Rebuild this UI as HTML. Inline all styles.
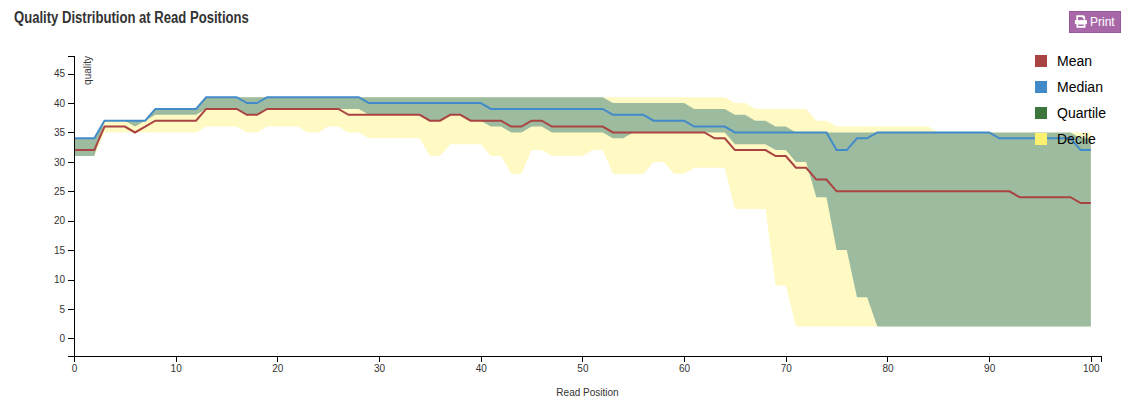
<!DOCTYPE html>
<html><head><meta charset="utf-8"><title>Quality Distribution</title>
<style>
html,body{margin:0;padding:0;background:#fff;width:1137px;height:405px;overflow:hidden;position:relative;font-family:"Liberation Sans",sans-serif;}
.title{position:absolute;left:14px;top:9px;font-size:16px;line-height:18px;font-weight:bold;color:#333;white-space:nowrap;transform-origin:0 0;transform:scaleX(0.818);}
.btn{position:absolute;left:1069px;top:11px;width:50px;height:20px;background:#a868a8;border:1px solid #9b579b;color:#fff;font-size:12px;line-height:20px;}
.btn span{position:absolute;left:20px;top:0;}
.tk text{stroke:none;fill:#333;}
</style></head><body>
<div class="title">Quality Distribution at Read Positions</div>
<div class="btn"><svg width="14" height="14" viewBox="0 0 14 14" style="position:absolute;left:4px;top:3px"><path fill-rule="evenodd" d="M2.3,0.3H9.6L11.1,1.8V5.3H2.3Z M4,2H7.9L9.8,3.9V5.3H4Z" fill="#fff"/><path d="M0.9,5.1H12.9V9.1H0.9Z" fill="#fff"/><path fill-rule="evenodd" d="M2.5,8.3H11.4V12.7H2.5Z M4.2,9.6H9.7V11.1H4.2Z" fill="#fff"/></svg><span>Print</span></div>
<svg width="1137" height="405" viewBox="0 0 1137 405" style="position:absolute;left:0;top:0">
<path d="M74,138.35L84.17,138.35L94.34,138.35L104.5,120.71L114.67,120.71L124.84,120.71L135.01,120.71L145.18,120.71L155.35,108.94L165.51,108.94L175.68,108.94L185.85,108.94L196.02,108.94L206.19,97.18L216.36,97.18L226.52,97.18L236.69,97.18L246.86,97.18L257.03,97.18L267.2,97.18L277.37,97.18L287.53,97.18L297.7,97.18L307.87,97.18L318.04,97.18L328.21,97.18L338.38,97.18L348.54,97.18L358.71,97.18L368.88,97.18L379.05,97.18L389.22,97.18L399.39,97.18L409.55,97.18L419.72,97.18L429.89,97.18L440.06,97.18L450.23,97.18L460.4,97.18L470.56,97.18L480.73,97.18L490.9,97.18L501.07,97.18L511.24,97.18L521.41,97.18L531.57,97.18L541.74,97.18L551.91,97.18L562.08,97.18L572.25,97.18L582.42,97.18L592.58,97.18L602.75,97.18L612.92,97.18L623.09,97.18L633.26,97.18L643.43,97.18L653.59,97.18L663.76,97.18L673.93,97.18L684.1,97.18L694.27,97.18L704.44,97.18L714.6,97.18L724.77,97.18L734.94,103.06L745.11,103.06L755.28,108.94L765.45,108.94L775.61,108.94L785.78,108.94L795.95,108.94L806.12,108.94L816.29,120.71L826.46,120.71L836.62,126.59L846.79,126.59L856.96,126.59L867.13,126.59L877.3,126.59L887.47,126.59L897.63,126.59L907.8,126.59L917.97,126.59L928.14,126.59L938.31,132.47L948.48,132.47L958.64,132.47L968.81,132.47L978.98,132.47L989.15,132.47L999.32,132.47L1009.49,132.47L1019.65,132.47L1029.82,132.47L1039.99,132.47L1050.16,132.47L1060.33,132.47L1070.5,132.47L1080.66,132.47L1090.83,132.47L1090.83,326.59L1080.66,326.59L1070.5,326.59L1060.33,326.59L1050.16,326.59L1039.99,326.59L1029.82,326.59L1019.65,326.59L1009.49,326.59L999.32,326.59L989.15,326.59L978.98,326.59L968.81,326.59L958.64,326.59L948.48,326.59L938.31,326.59L928.14,326.59L917.97,326.59L907.8,326.59L897.63,326.59L887.47,326.59L877.3,326.59L867.13,326.59L856.96,326.59L846.79,326.59L836.62,326.59L826.46,326.59L816.29,326.59L806.12,326.59L795.95,326.59L785.78,285.41L775.61,285.41L765.45,208.94L755.28,208.94L745.11,208.94L734.94,208.94L724.77,167.76L714.6,167.76L704.44,167.76L694.27,167.76L684.1,173.65L673.93,173.65L663.76,161.88L653.59,161.88L643.43,173.65L633.26,173.65L623.09,173.65L612.92,173.65L602.75,150.12L592.58,150.12L582.42,156L572.25,156L562.08,156L551.91,156L541.74,150.12L531.57,150.12L521.41,173.65L511.24,173.65L501.07,156L490.9,156L480.73,144.24L470.56,144.24L460.4,144.24L450.23,144.24L440.06,156L429.89,156L419.72,138.35L409.55,138.35L399.39,138.35L389.22,138.35L379.05,138.35L368.88,138.35L358.71,132.47L348.54,132.47L338.38,126.59L328.21,126.59L318.04,132.47L307.87,132.47L297.7,126.59L287.53,126.59L277.37,126.59L267.2,126.59L257.03,132.47L246.86,132.47L236.69,126.59L226.52,126.59L216.36,126.59L206.19,126.59L196.02,132.47L185.85,132.47L175.68,132.47L165.51,132.47L155.35,132.47L145.18,132.47L135.01,132.47L124.84,132.47L114.67,132.47L104.5,132.47L94.34,156L84.17,156L74,156Z" fill="#fff9c4"/>
<path d="M74,138.35L84.17,138.35L94.34,138.35L104.5,120.71L114.67,120.71L124.84,120.71L135.01,120.71L145.18,120.71L155.35,108.94L165.51,108.94L175.68,108.94L185.85,108.94L196.02,108.94L206.19,97.18L216.36,97.18L226.52,97.18L236.69,97.18L246.86,97.18L257.03,97.18L267.2,97.18L277.37,97.18L287.53,97.18L297.7,97.18L307.87,97.18L318.04,97.18L328.21,97.18L338.38,97.18L348.54,97.18L358.71,97.18L368.88,97.18L379.05,97.18L389.22,97.18L399.39,97.18L409.55,97.18L419.72,97.18L429.89,97.18L440.06,97.18L450.23,97.18L460.4,97.18L470.56,97.18L480.73,97.18L490.9,97.18L501.07,97.18L511.24,97.18L521.41,97.18L531.57,97.18L541.74,97.18L551.91,97.18L562.08,97.18L572.25,97.18L582.42,97.18L592.58,97.18L602.75,97.18L612.92,103.06L623.09,103.06L633.26,103.06L643.43,103.06L653.59,103.06L663.76,103.06L673.93,103.06L684.1,103.06L694.27,108.94L704.44,108.94L714.6,108.94L724.77,108.94L734.94,114.82L745.11,114.82L755.28,120.71L765.45,120.71L775.61,126.59L785.78,126.59L795.95,132.47L806.12,132.47L816.29,132.47L826.46,132.47L836.62,132.47L846.79,132.47L856.96,132.47L867.13,132.47L877.3,132.47L887.47,132.47L897.63,132.47L907.8,132.47L917.97,132.47L928.14,132.47L938.31,132.47L948.48,132.47L958.64,132.47L968.81,132.47L978.98,132.47L989.15,132.47L999.32,132.47L1009.49,132.47L1019.65,132.47L1029.82,132.47L1039.99,132.47L1050.16,132.47L1060.33,132.47L1070.5,132.47L1080.66,138.35L1090.83,138.35L1090.83,326.59L1080.66,326.59L1070.5,326.59L1060.33,326.59L1050.16,326.59L1039.99,326.59L1029.82,326.59L1019.65,326.59L1009.49,326.59L999.32,326.59L989.15,326.59L978.98,326.59L968.81,326.59L958.64,326.59L948.48,326.59L938.31,326.59L928.14,326.59L917.97,326.59L907.8,326.59L897.63,326.59L887.47,326.59L877.3,326.59L867.13,297.18L856.96,297.18L846.79,250.12L836.62,250.12L826.46,197.18L816.29,197.18L806.12,161.88L795.95,161.88L785.78,150.12L775.61,150.12L765.45,144.24L755.28,144.24L745.11,144.24L734.94,144.24L724.77,132.47L714.6,132.47L704.44,132.47L694.27,132.47L684.1,132.47L673.93,132.47L663.76,132.47L653.59,132.47L643.43,132.47L633.26,132.47L623.09,138.35L612.92,138.35L602.75,132.47L592.58,132.47L582.42,132.47L572.25,132.47L562.08,132.47L551.91,132.47L541.74,126.59L531.57,126.59L521.41,132.47L511.24,132.47L501.07,126.59L490.9,126.59L480.73,120.71L470.56,120.71L460.4,114.82L450.23,114.82L440.06,120.71L429.89,120.71L419.72,114.82L409.55,114.82L399.39,114.82L389.22,114.82L379.05,114.82L368.88,114.82L358.71,108.94L348.54,108.94L338.38,108.94L328.21,108.94L318.04,108.94L307.87,108.94L297.7,108.94L287.53,108.94L277.37,108.94L267.2,108.94L257.03,114.82L246.86,114.82L236.69,108.94L226.52,108.94L216.36,108.94L206.19,108.94L196.02,114.82L185.85,114.82L175.68,114.82L165.51,114.82L155.35,114.82L145.18,120.71L135.01,126.59L124.84,120.71L114.67,120.71L104.5,120.71L94.34,156L84.17,156L74,156Z" fill="#9dbb9e"/>
<path d="M74,150.12L84.17,150.12L94.34,150.12L104.5,126.59L114.67,126.59L124.84,126.59L135.01,132.47L145.18,126.59L155.35,120.71L165.51,120.71L175.68,120.71L185.85,120.71L196.02,120.71L206.19,108.94L216.36,108.94L226.52,108.94L236.69,108.94L246.86,114.82L257.03,114.82L267.2,108.94L277.37,108.94L287.53,108.94L297.7,108.94L307.87,108.94L318.04,108.94L328.21,108.94L338.38,108.94L348.54,114.82L358.71,114.82L368.88,114.82L379.05,114.82L389.22,114.82L399.39,114.82L409.55,114.82L419.72,114.82L429.89,120.71L440.06,120.71L450.23,114.82L460.4,114.82L470.56,120.71L480.73,120.71L490.9,120.71L501.07,120.71L511.24,126.59L521.41,126.59L531.57,120.71L541.74,120.71L551.91,126.59L562.08,126.59L572.25,126.59L582.42,126.59L592.58,126.59L602.75,126.59L612.92,132.47L623.09,132.47L633.26,132.47L643.43,132.47L653.59,132.47L663.76,132.47L673.93,132.47L684.1,132.47L694.27,132.47L704.44,132.47L714.6,138.35L724.77,138.35L734.94,150.12L745.11,150.12L755.28,150.12L765.45,150.12L775.61,156L785.78,156L795.95,167.76L806.12,167.76L816.29,179.53L826.46,179.53L836.62,191.29L846.79,191.29L856.96,191.29L867.13,191.29L877.3,191.29L887.47,191.29L897.63,191.29L907.8,191.29L917.97,191.29L928.14,191.29L938.31,191.29L948.48,191.29L958.64,191.29L968.81,191.29L978.98,191.29L989.15,191.29L999.32,191.29L1009.49,191.29L1019.65,197.18L1029.82,197.18L1039.99,197.18L1050.16,197.18L1060.33,197.18L1070.5,197.18L1080.66,203.06L1090.83,203.06" fill="none" stroke="#a94442" stroke-width="2"/>
<path d="M74,138.35L84.17,138.35L94.34,138.35L104.5,120.71L114.67,120.71L124.84,120.71L135.01,120.71L145.18,120.71L155.35,108.94L165.51,108.94L175.68,108.94L185.85,108.94L196.02,108.94L206.19,97.18L216.36,97.18L226.52,97.18L236.69,97.18L246.86,103.06L257.03,103.06L267.2,97.18L277.37,97.18L287.53,97.18L297.7,97.18L307.87,97.18L318.04,97.18L328.21,97.18L338.38,97.18L348.54,97.18L358.71,97.18L368.88,103.06L379.05,103.06L389.22,103.06L399.39,103.06L409.55,103.06L419.72,103.06L429.89,103.06L440.06,103.06L450.23,103.06L460.4,103.06L470.56,103.06L480.73,103.06L490.9,108.94L501.07,108.94L511.24,108.94L521.41,108.94L531.57,108.94L541.74,108.94L551.91,108.94L562.08,108.94L572.25,108.94L582.42,108.94L592.58,108.94L602.75,108.94L612.92,114.82L623.09,114.82L633.26,114.82L643.43,114.82L653.59,120.71L663.76,120.71L673.93,120.71L684.1,120.71L694.27,126.59L704.44,126.59L714.6,126.59L724.77,126.59L734.94,132.47L745.11,132.47L755.28,132.47L765.45,132.47L775.61,132.47L785.78,132.47L795.95,132.47L806.12,132.47L816.29,132.47L826.46,132.47L836.62,150.12L846.79,150.12L856.96,138.35L867.13,138.35L877.3,132.47L887.47,132.47L897.63,132.47L907.8,132.47L917.97,132.47L928.14,132.47L938.31,132.47L948.48,132.47L958.64,132.47L968.81,132.47L978.98,132.47L989.15,132.47L999.32,138.35L1009.49,138.35L1019.65,138.35L1029.82,138.35L1039.99,138.35L1050.16,138.35L1060.33,138.35L1070.5,138.35L1080.66,150.12L1090.83,150.12" fill="none" stroke="#428bca" stroke-width="2"/>
<g class="ax" shape-rendering="crispEdges">
<path d="M68,356.5H74.5V56.5H68" fill="none" stroke="#000"/>
<path d="M74.5,362V356.5H1101.5V362" fill="none" stroke="#000"/>
</g>
<g class="tk" stroke="#000" shape-rendering="crispEdges" font-family="Liberation Sans, sans-serif" font-size="10"><g transform="translate(0,338.85)"><line x1="68" x2="74" y1="0" y2="0"/><text x="65" dy="0.32em" text-anchor="end">0</text></g><g transform="translate(0,309.44)"><line x1="68" x2="74" y1="0" y2="0"/><text x="65" dy="0.32em" text-anchor="end">5</text></g><g transform="translate(0,280.03)"><line x1="68" x2="74" y1="0" y2="0"/><text x="65" dy="0.32em" text-anchor="end">10</text></g><g transform="translate(0,250.62)"><line x1="68" x2="74" y1="0" y2="0"/><text x="65" dy="0.32em" text-anchor="end">15</text></g><g transform="translate(0,221.21)"><line x1="68" x2="74" y1="0" y2="0"/><text x="65" dy="0.32em" text-anchor="end">20</text></g><g transform="translate(0,191.79)"><line x1="68" x2="74" y1="0" y2="0"/><text x="65" dy="0.32em" text-anchor="end">25</text></g><g transform="translate(0,162.38)"><line x1="68" x2="74" y1="0" y2="0"/><text x="65" dy="0.32em" text-anchor="end">30</text></g><g transform="translate(0,132.97)"><line x1="68" x2="74" y1="0" y2="0"/><text x="65" dy="0.32em" text-anchor="end">35</text></g><g transform="translate(0,103.56)"><line x1="68" x2="74" y1="0" y2="0"/><text x="65" dy="0.32em" text-anchor="end">40</text></g><g transform="translate(0,74.15)"><line x1="68" x2="74" y1="0" y2="0"/><text x="65" dy="0.32em" text-anchor="end">45</text></g><g transform="translate(74.5,0)"><line y1="356" y2="362" x1="0" x2="0"/><text y="365" dy="0.71em" text-anchor="middle">0</text></g><g transform="translate(176.18,0)"><line y1="356" y2="362" x1="0" x2="0"/><text y="365" dy="0.71em" text-anchor="middle">10</text></g><g transform="translate(277.87,0)"><line y1="356" y2="362" x1="0" x2="0"/><text y="365" dy="0.71em" text-anchor="middle">20</text></g><g transform="translate(379.55,0)"><line y1="356" y2="362" x1="0" x2="0"/><text y="365" dy="0.71em" text-anchor="middle">30</text></g><g transform="translate(481.23,0)"><line y1="356" y2="362" x1="0" x2="0"/><text y="365" dy="0.71em" text-anchor="middle">40</text></g><g transform="translate(582.92,0)"><line y1="356" y2="362" x1="0" x2="0"/><text y="365" dy="0.71em" text-anchor="middle">50</text></g><g transform="translate(684.6,0)"><line y1="356" y2="362" x1="0" x2="0"/><text y="365" dy="0.71em" text-anchor="middle">60</text></g><g transform="translate(786.28,0)"><line y1="356" y2="362" x1="0" x2="0"/><text y="365" dy="0.71em" text-anchor="middle">70</text></g><g transform="translate(887.97,0)"><line y1="356" y2="362" x1="0" x2="0"/><text y="365" dy="0.71em" text-anchor="middle">80</text></g><g transform="translate(989.65,0)"><line y1="356" y2="362" x1="0" x2="0"/><text y="365" dy="0.71em" text-anchor="middle">90</text></g><g transform="translate(1091.33,0)"><line y1="356" y2="362" x1="0" x2="0"/><text y="365" dy="0.71em" text-anchor="middle">100</text></g></g>
<text transform="translate(91,56) rotate(-90)" text-anchor="end" font-family="Liberation Sans, sans-serif" font-size="10" fill="#333">quality</text>
<text x="587.5" y="395.5" text-anchor="middle" font-family="Liberation Sans, sans-serif" font-size="10" fill="#333">Read Position</text>
<g font-family="Liberation Sans, sans-serif" font-size="14" fill="#000">
<rect x="1035" y="55" width="12" height="12" fill="#a94442"/><text x="1057" y="66">Mean</text>
<rect x="1035" y="81" width="12" height="12" fill="#428bca"/><text x="1057" y="92">Median</text>
<rect x="1035" y="107" width="12" height="12" fill="#3c763d"/><text x="1057" y="118">Quartile</text>
<rect x="1035" y="133" width="12" height="12" fill="#fff170"/><text x="1057" y="144">Decile</text>
</g>
</svg>
</body></html>
